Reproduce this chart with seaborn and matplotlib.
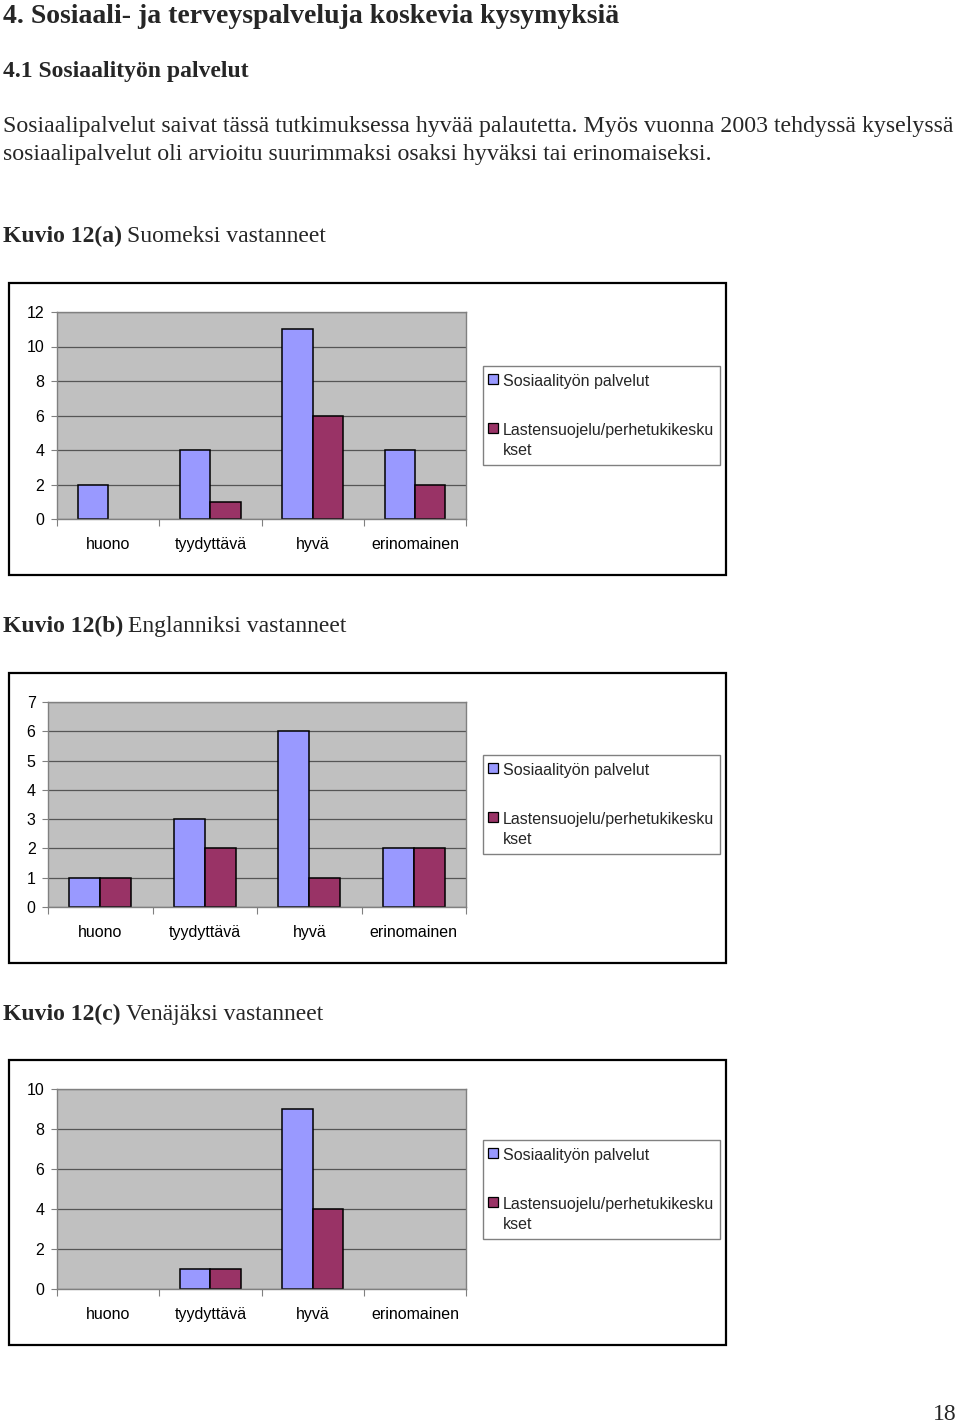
# Kuvio 12 (a-c): sosiaalipalvelujen arviot vastauskielen mukaan

import pandas as pd
import matplotlib.pyplot as plt
import seaborn as sns
from matplotlib.patches import Rectangle

W, H = 960, 1425

# Data
categories = ["huono", "tyydyttävä", "hyvä", "erinomainen"]
series_names = ["Sosiaalityön palvelut", "Lastensuojelu/perhetukikeskukset"]
legend_labels = ["Sosiaalityön palvelut", "Lastensuojelu/perhetukikesku\nkset"]

fi_sosiaalityo = [2, 4, 11, 4]
fi_lastensuojelu = [0, 1, 6, 2]
en_sosiaalityo = [1, 3, 6, 2]
en_lastensuojelu = [1, 2, 1, 2]
ru_sosiaalityo = [0, 1, 9, 0]
ru_lastensuojelu = [0, 1, 4, 0]

y_max = [12, 7, 10]
y_step = [2, 1, 2]

chart_titles = [("Kuvio 12(a)", "Suomeksi vastanneet"),
                ("Kuvio 12(b)", "Englanniksi vastanneet"),
                ("Kuvio 12(c)", "Venäjäksi vastanneet")]

BLUE = "#9999FF"
RED = "#993366"
SERIF = ["Liberation Serif", "DejaVu Serif"]

# Layout in pixels: frame, plot area, legend top, title baseline
layout = [
    dict(frame=(9, 283, 726, 575), plot=(57, 312, 466, 519), legend_top=366, title_y=242),
    dict(frame=(9, 673, 726, 963), plot=(48, 702, 466, 907), legend_top=755, title_y=632),
    dict(frame=(9, 1060, 726, 1345), plot=(57, 1089, 466, 1289), legend_top=1140, title_y=1020),
]


def px_rect(x0, y0, x1, y1):
    return [x0 / W, 1 - y1 / H, (x1 - x0) / W, (y1 - y0) / H]


def fy(y):
    return 1 - y / H


sns.set_theme(style="white")
plt.rcParams["font.family"] = ["Liberation Sans", "DejaVu Sans"]

fig = plt.figure(figsize=(W / 100, H / 100), dpi=100)
renderer = fig.canvas.get_renderer()

# Page text
fig.text(3 / W, fy(23), "4. Sosiaali- ja terveyspalveluja koskevia kysymyksiä",
         family=SERIF, weight="bold", fontsize=20, va="baseline")
fig.text(3 / W, fy(77), "4.1 Sosiaalityön palvelut",
         family=SERIF, weight="bold", fontsize=17, va="baseline")
fig.text(3 / W, fy(132),
         "Sosiaalipalvelut saivat tässä tutkimuksessa hyvää palautetta. Myös vuonna 2003 tehdyssä kyselyssä",
         family=SERIF, fontsize=17.2, va="baseline")
fig.text(3 / W, fy(160),
         "sosiaalipalvelut oli arvioitu suurimmaksi osaksi hyväksi tai erinomaiseksi.",
         family=SERIF, fontsize=17.2, va="baseline")
fig.text(957 / W, fy(1420), "18", family=SERIF, fontsize=17, va="baseline", ha="right")

all_data = [(fi_sosiaalityo, fi_lastensuojelu),
            (en_sosiaalityo, en_lastensuojelu),
            (ru_sosiaalityo, ru_lastensuojelu)]

for i, (s1, s2) in enumerate(all_data):
    lay = layout[i]

    # title: bold part + regular part
    t = fig.text(3 / W, fy(lay["title_y"]), chart_titles[i][0],
                 family=SERIF, weight="bold", fontsize=17, va="baseline")
    bb = t.get_window_extent(renderer)
    fig.text((bb.x1 + 5) / W, fy(lay["title_y"]), chart_titles[i][1],
             family=SERIF, fontsize=17, va="baseline")

    # chart frame
    x0, y0, x1, y1 = lay["frame"]
    fig.add_artist(Rectangle((x0 / W, fy(y1)), (x1 - x0) / W, (y1 - y0) / H,
                             transform=fig.transFigure, fill=False,
                             edgecolor="black", lw=1.6))

    df = pd.DataFrame({
        "kategoria": categories * 2,
        "sarja": [series_names[0]] * 4 + [series_names[1]] * 4,
        "arvo": s1 + s2,
    })

    ax = fig.add_axes(px_rect(*lay["plot"]))
    sns.barplot(data=df, x="kategoria", y="arvo", hue="sarja",
                order=categories, hue_order=series_names,
                palette=[BLUE, RED], saturation=1, width=0.59,
                edgecolor="black", linewidth=1.1, legend=False, ax=ax)
    for p in ax.patches:
        if p.get_height() == 0:
            p.set_linewidth(0)

    ax.set_facecolor("#C0C0C0")
    ax.set_xlim(-0.5, 3.5)
    ax.set_ylim(0, y_max[i])
    ax.set_yticks(range(0, y_max[i] + 1, y_step[i]))
    ax.yaxis.grid(True, color="#555555", lw=0.9)
    ax.set_axisbelow(True)
    ax.set_xlabel("")
    ax.set_ylabel("")
    ax.set_xticks(range(len(categories)))
    ax.set_xticklabels(categories)
    ax.set_xticks([-0.5, 0.5, 1.5, 2.5, 3.5], minor=True)
    ax.tick_params(axis="x", which="major", length=0, pad=13, labelsize=11.5,
                   labelcolor="black")
    ax.tick_params(axis="x", which="minor", bottom=True, length=5, width=0.8,
                   color="#808080", direction="out")
    ax.tick_params(axis="y", left=True, length=4, width=0.8, color="#808080",
                   direction="out", pad=5, labelsize=11.5, labelcolor="black")
    for s in ax.spines.values():
        s.set_visible(True)
        s.set_color("#808080")
        s.set_linewidth(1)

    # legend box
    ly = lay["legend_top"]
    fig.add_artist(Rectangle((483 / W, fy(ly + 99)), (720 - 483) / W, 99 / H,
                             transform=fig.transFigure, facecolor="white",
                             edgecolor="#808080", lw=1))
    for k, (lab, col) in enumerate(zip(legend_labels, [BLUE, RED])):
        top = ly + 8 + 49 * k
        fig.add_artist(Rectangle((488 / W, fy(top + 10)), 10 / W, 10 / H,
                                 transform=fig.transFigure, facecolor=col,
                                 edgecolor="black", lw=0.9))
        fig.text(503 / W, fy(top), lab, fontsize=11.5, va="top",
                 linespacing=1.4)

fig.savefig("out.png", dpi=100)
